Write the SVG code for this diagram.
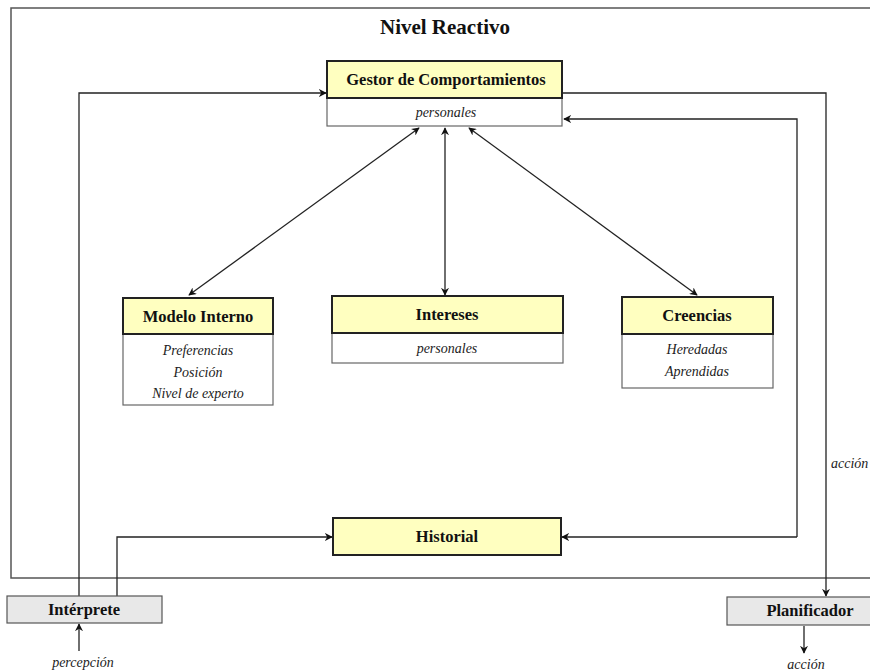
<svg xmlns="http://www.w3.org/2000/svg" width="870" height="672" viewBox="0 0 870 672">
<style>
.frame{fill:none;stroke:#555;stroke-width:1.5}
.hdr{fill:#ffffc0;stroke:#222;stroke-width:2}
.body{fill:#fff;stroke:#666;stroke-width:1.2}
.ext{fill:#e8e8e8;stroke:#555;stroke-width:1.2}
.t{font-family:"Liberation Serif",serif;font-weight:bold;font-size:16.5px;fill:#111;text-anchor:middle}
.i{font-family:"Liberation Serif",serif;font-style:italic;font-size:14px;fill:#222;text-anchor:middle}
.c{fill:none;stroke:#222;stroke-width:1.3}
</style>
<defs>
<marker id="ah" viewBox="0 0 10 10" refX="9" refY="5" markerWidth="8" markerHeight="8" markerUnits="userSpaceOnUse" orient="auto-start-reverse">
<path d="M0,0 L10,5 L0,10 L3,5 Z" fill="#111"/>
</marker>
</defs>
<rect width="870" height="672" fill="#fff"/>
<path class="frame" d="M880,8 H11 V578 H880"/>
<text x="445" y="34" class="t" style="font-size:21px">Nivel Reactivo</text>

<g id="connectors">
<path class="c" d="M79,596 V93 H326" marker-end="url(#ah)"/>
<path class="c" d="M117,596 V537 H332" marker-end="url(#ah)"/>
<path class="c" d="M797,537 H562" marker-end="url(#ah)"/>
<path class="c" d="M797,537 V119 H564" marker-end="url(#ah)"/>
<path class="c" d="M562,93 H826 V596" marker-end="url(#ah)"/>
<line class="c" x1="419" y1="128" x2="189" y2="295" marker-start="url(#ah)" marker-end="url(#ah)"/>
<line class="c" x1="445" y1="128" x2="445" y2="295" marker-start="url(#ah)" marker-end="url(#ah)"/>
<line class="c" x1="469" y1="128" x2="697" y2="295" marker-start="url(#ah)" marker-end="url(#ah)"/>
<path class="c" d="M79,651 V624" marker-end="url(#ah)"/>
<path class="c" d="M804,626 V653" marker-end="url(#ah)"/>
<text x="831" y="468" class="i" style="text-anchor:start">acción</text>
<text x="83" y="667" class="i">percepción</text>
<text x="806" y="669" class="i">acción</text>
</g>

<g id="gestor">
<rect class="body" x="327" y="98" width="235" height="28"/>
<rect class="hdr" x="327" y="61" width="235" height="37"/>
<text x="446" y="85" class="t">Gestor de Comportamientos</text>
<text x="446" y="117" class="i">personales</text>
</g>

<g id="modelo">
<rect class="body" x="123" y="334" width="150" height="71"/>
<rect class="hdr" x="123" y="298" width="150" height="36"/>
<text x="198" y="322" class="t">Modelo Interno</text>
<text x="198" y="355" class="i">Preferencias</text>
<text x="198" y="377" class="i">Posición</text>
<text x="198" y="398" class="i">Nivel de experto</text>
</g>

<g id="intereses">
<rect class="body" x="332" y="333" width="231" height="30"/>
<rect class="hdr" x="332" y="296" width="231" height="37"/>
<text x="447" y="320" class="t">Intereses</text>
<text x="447" y="353" class="i">personales</text>
</g>

<g id="creencias">
<rect class="body" x="622" y="334" width="151" height="54"/>
<rect class="hdr" x="622" y="297" width="151" height="37"/>
<text x="697" y="321" class="t">Creencias</text>
<text x="697" y="354" class="i">Heredadas</text>
<text x="697" y="376" class="i">Aprendidas</text>
</g>

<g id="historial">
<rect class="hdr" x="333" y="518" width="228" height="37"/>
<text x="447" y="542" class="t">Historial</text>
</g>

<g id="interprete">
<rect class="ext" x="7" y="596" width="155" height="27"/>
<text x="84" y="615" class="t">Intérprete</text>
</g>

<g id="planificador">
<rect class="ext" x="727" y="597" width="150" height="28"/>
<text x="810" y="616" class="t">Planificador</text>
</g>
</svg>
